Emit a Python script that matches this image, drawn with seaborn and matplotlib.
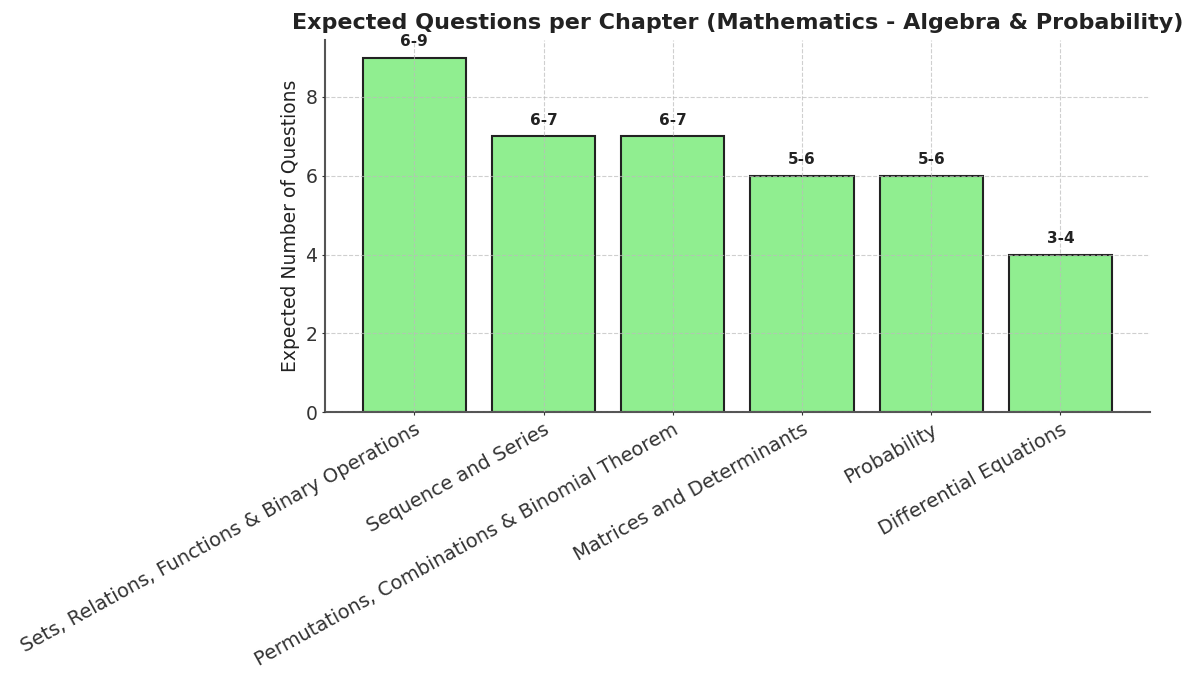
import matplotlib
matplotlib.use('Agg')
import matplotlib.pyplot as plt
import seaborn as sns
import pandas as pd

# chapters and expected question counts
chapters = [
    "Sets, Relations, Functions & Binary Operations",
    "Sequence and Series",
    "Permutations, Combinations & Binomial Theorem",
    "Matrices and Determinants",
    "Probability",
    "Differential Equations",
]
expected = [9, 7, 7, 6, 6, 4]
ranges = ["6-9", "6-7", "6-7", "5-6", "5-6", "3-4"]

df = pd.DataFrame({"Chapter": chapters, "Expected": expected})

sns.set_style("ticks")
plt.rcParams['font.family'] = ['DejaVu Sans']
plt.rcParams['text.color'] = '#222222'
plt.rcParams['axes.labelcolor'] = '#222222'
plt.rcParams['xtick.color'] = '#333333'
plt.rcParams['ytick.color'] = '#333333'

fig = plt.figure(figsize=(12, 6.86), dpi=100)
ax = fig.add_axes([0.271, 0.399, 0.687, 0.543])

sns.barplot(data=df, x="Chapter", y="Expected", color="lightgreen",
            saturation=1, width=0.8, edgecolor="#222222", linewidth=1.5, ax=ax)

for i, (val, lab) in enumerate(zip(expected, ranges)):
    ax.text(i, val + 0.22, lab, ha='center', va='bottom',
            fontsize=11, fontweight='bold', color='#222222')

ax.set_axisbelow(False)
ax.grid(True, linestyle='--', color='#bbbbbb', linewidth=0.8, alpha=0.7)
ax.set_xlim(-0.69, 5.69)
ax.set_ylim(0, 9.45)
ax.set_yticks([0, 2, 4, 6, 8])

for s in ['top', 'right']:
    ax.spines[s].set_visible(False)
for s in ['left', 'bottom']:
    ax.spines[s].set_color('#555555')
    ax.spines[s].set_linewidth(1.5)
ax.tick_params(axis='both', length=2, labelsize=13.5)

ax.set_xlabel("")
ax.set_ylabel("Expected Number of Questions", fontsize=13.5, labelpad=4)
ax.set_title("Expected Questions per Chapter (Mathematics - Algebra & Probability)",
             fontsize=16, fontweight='bold', pad=8)
plt.setp(ax.get_xticklabels(), rotation=29, ha='right', fontsize=14,
         rotation_mode='anchor')

fig.savefig("out.png", dpi=100)
